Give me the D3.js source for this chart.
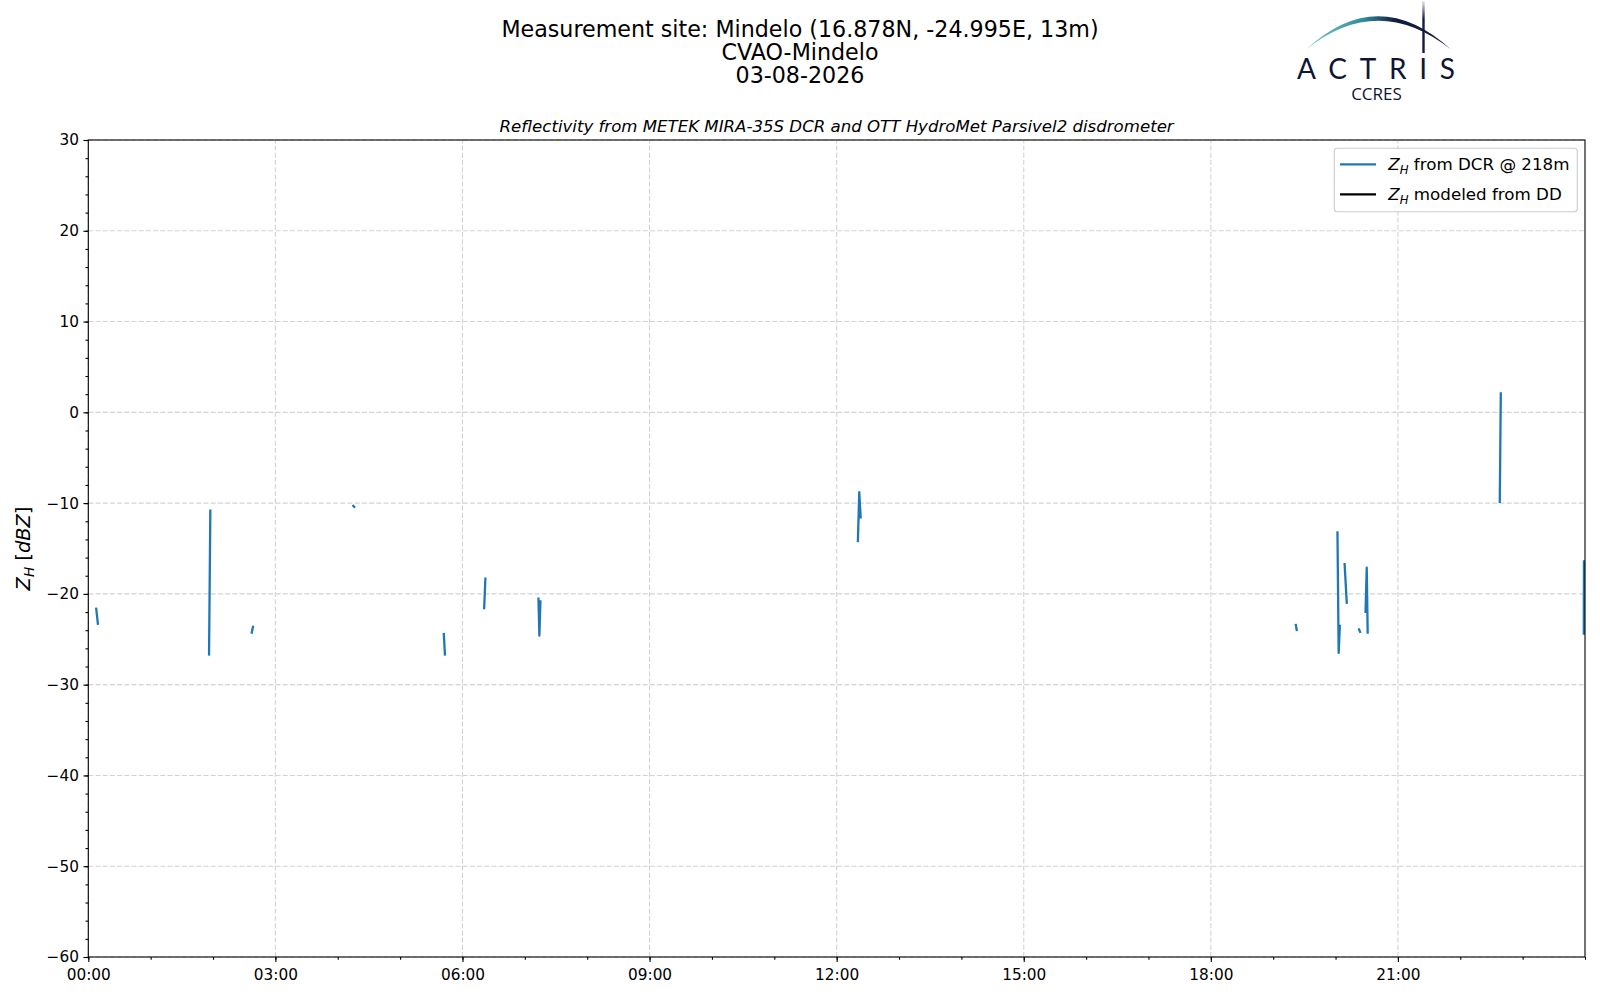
<!DOCTYPE html>
<html lang="en">
  <head>
    <meta charset="UTF-8" />
    <title>Reflectivity Mindelo</title>
    <style>
      body { margin: 0; background: #fff; }
      svg text { font-family: "DejaVu Sans", sans-serif; }
      .tick text { font-size: 15.3px; fill: #000; }
      .grid line { stroke: #d3d3d3; stroke-dasharray: 5,2.2; stroke-width: 1.1; }
    </style>
  </head>
  <body>
    <svg width="1600" height="1000"></svg>

    <script src="https://cdn.jsdelivr.net/npm/d3@7"></script>

    <script>
      // DCR reflectivity at 218 m, null = gap in the record
      const dcrTime = [
        "00:07:30", "00:09:20", null,
        "01:56:10", "01:57:25", null,
        "02:37:00", "02:38:40", null,
        "04:14:15", "04:16:35", null,
        "05:42:00", "05:43:10", null,
        "06:20:50", "06:22:05", null,
        "07:13:05", "07:14:00", "07:15:00", null,
        "12:20:25", "12:21:45", "12:23:10", null,
        "19:21:35", "19:22:50", null,
        "20:01:50", "20:03:00", "20:04:10", null,
        "20:08:40", "20:10:50", null,
        "20:22:10", "20:24:00", null,
        "20:28:50", "20:30:00", "20:30:55", null,
        "22:38:00", "22:39:00", null,
        "23:58:50", "23:59:00"
      ];
      const dcrZh = [
        -21.5, -23.4, null,
        -26.8, -10.7, null,
        -24.4, -23.5, null,
        -10.2, -10.5, null,
        -24.3, -26.8, null,
        -21.7, -18.2, null,
        -20.4, -24.6, -20.7, null,
        -14.3, -8.8, -11.7, null,
        -23.3, -24.1, null,
        -13.1, -26.5, -23.4, null,
        -16.6, -21.1, null,
        -23.8, -24.3, null,
        -22.1, -17.1, -24.4, null,
        -10.0, 2.2, null,
        -24.5, -16.3
      ];
      // modeled from disdrometer: no data this day
      const ddTime = [];
      const ddZh = [];

      const day = "2026-08-03";
      const xTickHours = [0, 3, 6, 9, 12, 15, 18, 21];
      const yTicks = [-60, -50, -40, -30, -20, -10, 0, 10, 20, 30];
      const titleLines = [
        "Measurement site: Mindelo (16.878N, -24.995E, 13m)",
        "CVAO-Mindelo",
        "03-08-2026"
      ];
      const subTitle = "Reflectivity from METEK MIRA-35S DCR and OTT HydroMet Parsivel2 disdrometer";

      const svg = d3.select("svg"),
        width = +svg.attr("width"),
        height = +svg.attr("height");
      const margin = { top: 140, right: 15, bottom: 43, left: 88.3 };

      const parse = d3.timeParse("%Y-%m-%d %H:%M:%S");
      const t0 = parse(day + " 00:00:00");
      const t1 = d3.timeDay.offset(t0, 1);

      const x = d3.scaleTime().domain([t0, t1]).range([margin.left, width - margin.right]);
      const y = d3.scaleLinear().domain([-60, 30]).range([height - margin.bottom, margin.top]);

      const dcr = dcrTime.map((t, i) => ({ t: t ? parse(day + " " + t) : null, v: dcrZh[i] }));
      const dd = ddTime.map((t, i) => ({ t: parse(day + " " + t), v: ddZh[i] }));

      // grid
      const xMajor = xTickHours.map(h => d3.timeHour.offset(t0, h));
      svg.append("g").attr("class", "grid")
        .selectAll("line").data(xMajor).join("line")
        .attr("x1", d => x(d)).attr("x2", d => x(d))
        .attr("y1", y(-60)).attr("y2", y(30));
      svg.append("g").attr("class", "grid")
        .selectAll("line").data(yTicks).join("line")
        .attr("x1", x(t0)).attr("x2", x(t1))
        .attr("y1", d => y(d)).attr("y2", d => y(d));

      // lines
      const line = d3.line()
        .defined(d => d.t !== null && d.v !== null)
        .x(d => x(d.t)).y(d => y(d.v));

      const plot = svg.append("g");
      plot.append("path").datum(dd)
        .attr("fill", "none").attr("stroke", "#000").attr("stroke-width", 2.3)
        .attr("d", line);
      plot.append("path").datum(dcr)
        .attr("fill", "none").attr("stroke", "#1f77b4").attr("stroke-width", 2.3)
        .attr("stroke-linejoin", "round").attr("stroke-linecap", "butt")
        .attr("d", line);

      // axes
      const xAxis = d3.axisBottom(x).tickValues(xMajor)
        .tickFormat(d3.timeFormat("%H:%M")).tickSize(4.9).tickPadding(7.5);
      const xMinor = d3.axisBottom(x).ticks(d3.timeHour.every(1))
        .tickFormat("").tickSize(2.8);
      const yAxis = d3.axisLeft(y).tickValues(yTicks).tickSize(4.9).tickPadding(4.5);
      const yMinor = d3.axisLeft(y).tickValues(d3.range(-60, 31, 2))
        .tickFormat("").tickSize(2.8);

      const gx = svg.append("g").attr("transform", `translate(0,${height - margin.bottom})`);
      gx.call(xMinor);
      gx.append("g").call(xAxis);
      const gy = svg.append("g").attr("transform", `translate(${margin.left},0)`);
      gy.call(yMinor);
      gy.append("g").call(yAxis);
      svg.selectAll(".domain").remove();
      svg.selectAll(".tick line").attr("stroke", "#000").attr("stroke-width", 1.1);
      svg.selectAll(".tick text").attr("font-family", "DejaVu Sans");

      // frame
      svg.append("rect")
        .attr("x", margin.left).attr("y", margin.top)
        .attr("width", width - margin.right - margin.left)
        .attr("height", height - margin.bottom - margin.top)
        .attr("fill", "none").attr("stroke", "#000").attr("stroke-width", 1.1);

      // y label
      const yl = svg.append("text")
        .attr("transform", `translate(30,${(margin.top + height - margin.bottom) / 2}) rotate(-90)`)
        .attr("text-anchor", "middle").attr("font-size", 19.4);
      yl.append("tspan").attr("font-style", "italic").text("Z");
      yl.append("tspan").attr("font-style", "italic").attr("font-size", 13.6).attr("dy", 4).text("H");
      yl.append("tspan").attr("dy", -4).text(" [");
      yl.append("tspan").attr("font-style", "italic").text("dBZ");
      yl.append("tspan").text("]");

      // titles
      svg.append("g").selectAll("text").data(titleLines).join("text")
        .attr("x", width / 2).attr("y", (d, i) => 36.6 + i * 23)
        .attr("text-anchor", "middle").attr("font-size", 22.2)
        .text(d => d);
      svg.append("text")
        .attr("x", (margin.left + width - margin.right) / 2).attr("y", 131.5)
        .attr("text-anchor", "middle").attr("font-size", 16.6).attr("font-style", "italic")
        .text(subTitle);

      // legend
      const legendItems = [
        { color: "#1f77b4", label: " from DCR @ 218m" },
        { color: "#000", label: " modeled from DD" }
      ];
      const lg = svg.append("g").attr("transform", `translate(${width - margin.right - 250.7},148.3)`);
      lg.append("rect").attr("width", 243).attr("height", 63.4).attr("rx", 3)
        .attr("fill", "#fff").attr("fill-opacity", 0.8).attr("stroke", "#cccccc").attr("stroke-width", 1.1);
      legendItems.forEach((d, i) => {
        const yy = 16 + i * 30;
        lg.append("line").attr("x1", 5.7).attr("x2", 41.7).attr("y1", yy).attr("y2", yy)
          .attr("stroke", d.color).attr("stroke-width", 2.3);
        const t = lg.append("text").attr("x", 54).attr("y", yy + 6).attr("font-size", 16.7);
        t.append("tspan").attr("font-style", "italic").text("Z");
        t.append("tspan").attr("font-style", "italic").attr("font-size", 11.7).attr("dy", 3.4).text("H");
        t.append("tspan").attr("dy", -3.4).text(d.label);
      });

      // ACTRIS / CCRES logo
      const defs = svg.append("defs");
      const arcGrad = defs.append("linearGradient").attr("id", "arcGrad")
        .attr("x1", "0%").attr("x2", "100%");
      arcGrad.append("stop").attr("offset", "0%").attr("stop-color", "#7ccac6");
      arcGrad.append("stop").attr("offset", "40%").attr("stop-color", "#2f8b9b");
      arcGrad.append("stop").attr("offset", "62%").attr("stop-color", "#131a42");
      arcGrad.append("stop").attr("offset", "100%").attr("stop-color", "#131a42");
      const vGrad = defs.append("linearGradient").attr("id", "vGrad")
        .attr("x1", "0%").attr("x2", "0%").attr("y1", "0%").attr("y2", "100%");
      vGrad.append("stop").attr("offset", "0%").attr("stop-color", "#131a42").attr("stop-opacity", 0.1);
      vGrad.append("stop").attr("offset", "35%").attr("stop-color", "#131a42").attr("stop-opacity", 1);
      vGrad.append("stop").attr("offset", "100%").attr("stop-color", "#131a42").attr("stop-opacity", 1);

      const logo = svg.append("g");
      logo.append("path")
        .attr("d", "M1306,49.5 Q1378,-17 1451,49.5 Q1378,-8 1306,49.5 Z")
        .attr("fill", "url(#arcGrad)");
      logo.append("rect").attr("x", 1422.3).attr("y", 1).attr("width", 2.4).attr("height", 52)
        .attr("fill", "url(#vGrad)");
      logo.append("text").attr("x", 1297).attr("y", 78.5)
        .attr("font-size", 28)
        .attr("textLength", 158).attr("lengthAdjust", "spacing")
        .attr("fill", "#0f1535").style("font-family", "Lato")
        .text("ACTRIS");
      logo.append("text").attr("x", 1376.5).attr("y", 100)
        .attr("text-anchor", "middle").attr("font-size", 17)
        .attr("fill", "#0f1535").style("font-family", "Open Sans")
        .text("CCRES");
    </script>
  </body>
</html>
